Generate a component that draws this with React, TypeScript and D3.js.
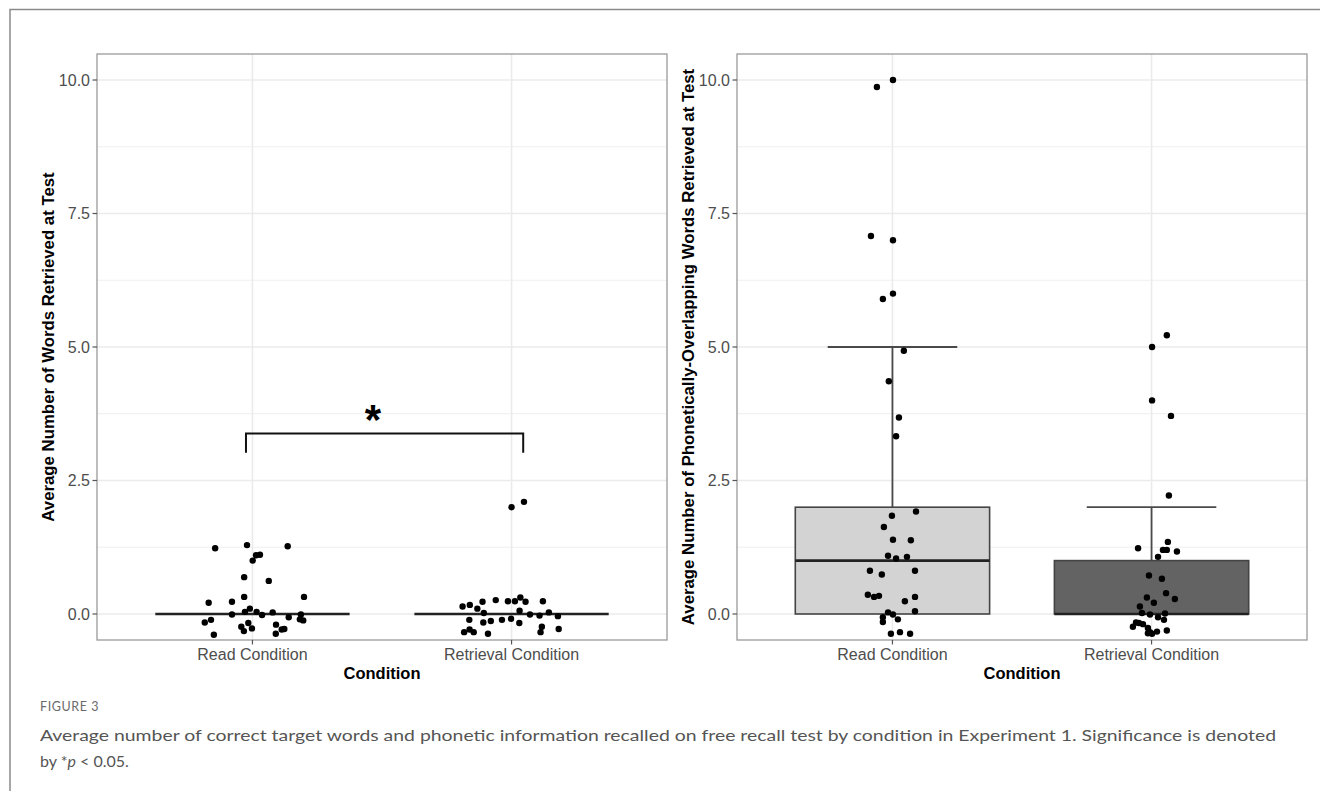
import React from "react";
import * as d3 from "d3";

// ---- Data ----
const categories = ["Read Condition", "Retrieval Condition"];
const yTicks = [0, 2.5, 5, 7.5, 10];
const yMinor = [1.25, 3.75, 6.25, 8.75];

// Left panel: words retrieved (jittered points: value, x-jitter in category units)
const leftReadValues = [1.23, 1.29, 1.27, 1.0, 1.1, 1.11, 0.69, 0.62, 0.21, 0.23, 0.32, 0.32, -0.01, 0.04, 0.1, 0.04, -0.02, 0.03, -0.06, -0.01, -0.1, -0.12, -0.11, -0.16, -0.17, -0.24, -0.27, -0.32, -0.2, -0.29, -0.28, -0.39, -0.37];
const leftReadJitter = [-0.144, -0.021, 0.136, 0.001, 0.014, 0.029, -0.032, 0.063, -0.169, -0.079, -0.032, 0.199, -0.079, -0.029, -0.01, 0.016, 0.037, 0.078, 0.14, 0.187, 0.183, 0.196, -0.16, -0.184, -0.016, -0.043, -0.002, -0.033, 0.091, 0.113, 0.123, -0.149, 0.09];
const leftRetrievalValues = [2.0, 2.1, 0.14, 0.17, 0.1, 0.23, 0.26, 0.24, 0.24, 0.31, 0.23, 0.24, 0.02, 0.06, -0.01, -0.03, 0.03, -0.04, -0.11, -0.16, -0.13, -0.11, -0.09, -0.17, -0.24, -0.28, -0.34, -0.29, -0.34, -0.37, -0.34];
const leftRetrievalJitter = [0.0, 0.048, -0.189, -0.161, -0.132, -0.112, -0.061, -0.014, 0.013, 0.034, 0.054, 0.121, -0.107, 0.031, 0.071, 0.108, 0.144, 0.179, -0.163, -0.109, -0.08, -0.037, -0.002, 0.03, 0.117, 0.182, -0.183, -0.162, -0.146, -0.091, 0.112];

// Right panel: phonetically-overlapping words
const rightReadValues = [10.0, 9.87, 7.08, 7.0, 6.0, 5.9, 4.93, 4.36, 3.68, 3.33, 1.92, 1.84, 1.63, 1.39, 1.38, 1.09, 1.04, 1.07, 0.81, 0.74, 0.81, 0.36, 0.32, 0.34, 0.24, 0.32, 0.05, 0.03, -0.01, -0.06, -0.1, -0.15, -0.37, -0.34, -0.37];
const rightReadJitter = [0.002, -0.06, -0.083, 0.002, 0.002, -0.037, 0.044, -0.014, 0.025, 0.014, 0.091, -0.002, -0.033, 0.002, 0.071, -0.017, 0.014, 0.056, -0.087, -0.041, 0.087, -0.095, -0.071, -0.052, 0.048, 0.087, 0.087, -0.017, 0.002, -0.037, 0.021, -0.037, -0.006, 0.029, 0.068];
const rightRetrievalValues = [5.22, 5.0, 4.0, 3.71, 2.22, 1.35, 1.23, 1.2, 1.2, 1.17, 1.07, 0.72, 0.66, 0.39, 0.31, 0.28, 0.21, 0.14, 0.02, -0.01, 0.01, -0.06, -0.11, -0.16, -0.17, -0.19, -0.24, -0.26, -0.31, -0.34, -0.33, -0.37, -0.36];
const rightRetrievalJitter = [0.059, 0.002, 0.002, 0.075, 0.067, 0.063, -0.052, 0.044, 0.059, 0.098, 0.025, -0.01, 0.04, 0.056, -0.018, 0.09, 0.009, -0.045, -0.037, -0.006, 0.052, 0.025, 0.048, -0.06, -0.049, -0.033, -0.072, -0.014, 0.059, -0.006, 0.021, 0.002, -0.014];

// Box statistics [lower whisker, q1, median, q3, upper whisker]
const leftBoxStats = [[0, 0, 0, 0, 0], [0, 0, 0, 0, 0]];
const rightBoxStats = [[0, 0, 1, 2, 5], [0, 0, 0, 1, 2]];
const boxFills = ["#D3D3D3", "#636363"];

// Significance bracket (left panel)
const bracket = { x1: 0.975, x2: 2.045, y: 3.38, yEnd: 3.02, starX: 1.465, starY: 3.42, label: "*" };

const leftTitle = "Average Number of Words Retrieved at Test";
const rightTitle = "Average Number of Phonetically-Overlapping Words Retrieved at Test";
const xTitle = "Condition";

const FONT = "'Liberation Sans', Arial, sans-serif";

type PanelProps = {
  left: number;
  right: number;
  title: string;
  boxStats: number[][];
  showFill: boolean;
  points: { values: number[]; jitter: number[] }[];
  withBracket?: boolean;
};

const TOP = 54;
const BOTTOM = 640;

function Panel({ left, right, title, boxStats, showFill, points, withBracket }: PanelProps) {
  const x = d3.scaleLinear().domain([0.4, 2.6]).range([left, right]);
  const y = d3.scaleLinear().domain([-0.487, 10.487]).range([BOTTOM, TOP]);
  const unit = x(1) - x(0);
  return (
    <g>
      <rect x={left} y={TOP} width={right - left} height={BOTTOM - TOP} fill="#fff" />
      {yMinor.map((t) => (
        <line key={"mi" + t} x1={left} x2={right} y1={y(t)} y2={y(t)} stroke="#EFEFEF" strokeWidth={1} />
      ))}
      {yTicks.map((t) => (
        <line key={"ma" + t} x1={left} x2={right} y1={y(t)} y2={y(t)} stroke="#EBEBEB" strokeWidth={1.6} />
      ))}
      {categories.map((c, i) => (
        <line key={"vx" + c} x1={x(i + 1)} x2={x(i + 1)} y1={TOP} y2={BOTTOM} stroke="#EBEBEB" strokeWidth={1.6} />
      ))}
      {boxStats.map((s, i) => {
        const cx = x(i + 1);
        const hw = 0.375 * unit;
        const cw = 0.25 * unit;
        const [lo, q1, med, q3, hi] = s;
        return (
          <g key={"box" + i}>
            {hi > q3 && (
              <>
                <line x1={cx} x2={cx} y1={y(q3)} y2={y(hi)} stroke="#4a4a4a" strokeWidth={1.8} />
                <line x1={cx - cw} x2={cx + cw} y1={y(hi)} y2={y(hi)} stroke="#4a4a4a" strokeWidth={1.8} />
              </>
            )}
            {q1 > lo && (
              <>
                <line x1={cx} x2={cx} y1={y(q1)} y2={y(lo)} stroke="#4a4a4a" strokeWidth={1.8} />
                <line x1={cx - cw} x2={cx + cw} y1={y(lo)} y2={y(lo)} stroke="#4a4a4a" strokeWidth={1.8} />
              </>
            )}
            {q3 > q1 && (
              <rect x={cx - hw} y={y(q3)} width={2 * hw} height={y(q1) - y(q3)} fill={showFill ? boxFills[i] : "none"} stroke="#444" strokeWidth={1.6} />
            )}
            <line x1={cx - hw} x2={cx + hw} y1={y(med)} y2={y(med)} stroke="#222" strokeWidth={2.6} />
          </g>
        );
      })}
      {points.map((p, i) =>
        p.values.map((v, j) => (
          <circle key={"pt" + i + "-" + j} cx={x(i + 1 + p.jitter[j])} cy={y(v)} r={3.2} fill="#000" />
        ))
      )}
      {withBracket && (
        <g>
          <path
            d={`M${x(bracket.x1)},${y(bracket.yEnd)}V${y(bracket.y)}H${x(bracket.x2)}V${y(bracket.yEnd)}`}
            fill="none"
            stroke="#111"
            strokeWidth={2}
          />
          <text x={x(bracket.starX)} y={y(bracket.starY) + 3} textAnchor="middle" fontFamily={FONT} fontWeight="bold" fontSize={42} fill="#000">
            {bracket.label}
          </text>
        </g>
      )}
      <rect x={left} y={TOP} width={right - left} height={BOTTOM - TOP} fill="none" stroke="#9a9a9a" strokeWidth={1.3} />
      {/* y axis */}
      {yTicks.map((t) => (
        <g key={"yt" + t}>
          <line x1={left - 4.5} x2={left} y1={y(t)} y2={y(t)} stroke="#555" strokeWidth={1.2} />
          <text x={left - 7} y={y(t)} dy="0.35em" textAnchor="end" fontFamily={FONT} fontSize={16} fill="#4d4d4d">
            {d3.format(".1f")(t)}
          </text>
        </g>
      ))}
      {/* x axis */}
      {categories.map((c, i) => (
        <g key={"xt" + c}>
          <line x1={x(i + 1)} x2={x(i + 1)} y1={BOTTOM} y2={BOTTOM + 4.5} stroke="#555" strokeWidth={1.2} />
          <text x={x(i + 1)} y={BOTTOM + 20} textAnchor="middle" fontFamily={FONT} fontSize={16} fill="#4d4d4d">
            {c}
          </text>
        </g>
      ))}
      <text x={(left + right) / 2} y={BOTTOM + 39} textAnchor="middle" fontFamily={FONT} fontWeight="bold" fontSize={16.5} fill="#000">
        {xTitle}
      </text>
      <text
        transform={`translate(${left - 49},${(TOP + BOTTOM) / 2}) rotate(-90)`}
        textAnchor="middle"
        dy="0.35em"
        fontFamily={FONT}
        fontWeight="bold"
        fontSize={16.8}
        fill="#000"
      >
        {title}
      </text>
    </g>
  );
}

export default function App() {
  return (
    <div style={{ position: "fixed", left: 0, top: 0, width: 1320, height: 791, background: "#fff" }}>
      <svg width={1320} height={791} style={{ display: "block" }}>
        <rect x={0} y={0} width={1320} height={791} fill="#fff" />
        <path d="M10,800V9.5H1330" fill="none" stroke="#8a8a8a" strokeWidth={1.5} />
        <Panel
          left={97}
          right={667}
          title={leftTitle}
          boxStats={leftBoxStats}
          showFill={false}
          points={[
            { values: leftReadValues, jitter: leftReadJitter },
            { values: leftRetrievalValues, jitter: leftRetrievalJitter },
          ]}
          withBracket
        />
        <Panel
          left={737}
          right={1307}
          title={rightTitle}
          boxStats={rightBoxStats}
          showFill
          points={[
            { values: rightReadValues, jitter: rightReadJitter },
            { values: rightRetrievalValues, jitter: rightRetrievalJitter },
          ]}
        />
        <text x={40} y={711} fontFamily="Lato, 'Open Sans', sans-serif" fontSize={12.5} letterSpacing={0.6} fill="#6a6a6a">
          FIGURE 3
        </text>
        <text x={40} y={741} fontFamily="Lato, 'Open Sans', sans-serif" fontSize={16} fill="#555" textLength={1236} lengthAdjust="spacingAndGlyphs">
          Average number of correct target words and phonetic information recalled on free recall test by condition in Experiment 1. Significance is denoted
        </text>
        <text x={40} y={767} fontFamily="Lato, 'Open Sans', sans-serif" fontSize={16} fill="#555">
          by *<tspan fontStyle="italic">p</tspan> &lt; 0.05.
        </text>
      </svg>
    </div>
  );
}
